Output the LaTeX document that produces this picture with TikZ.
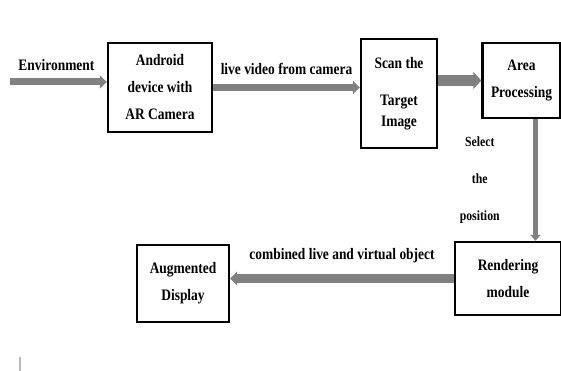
\documentclass[tikz,border=0pt]{standalone}
\usepackage{fontspec}
\setmainfont[FakeStretch=0.84]{Liberation Serif}
\usetikzlibrary{arrows.meta,positioning}

\begin{document}
\begin{tikzpicture}[x=1pt,y=-1pt,font=\bfseries\fontsize{16}{27}\selectfont,
		box/.style={draw,line width=2.4pt,align=center,inner sep=2pt},
		flow/.style={line width=7pt,draw=black!50,-{Triangle[length=7pt,width=13pt]}},
		small/.style={font=\bfseries\fontsize{14}{37}\selectfont,align=center}]
			\useasboundingbox (0,0) rectangle (561,371);

			\node	[box,minimum width=104pt,minimum height=89pt]	(android)	at (160,87.5)	{Android \\ device with \\ AR Camera};
			\node	[box,minimum width=76pt,minimum height=109pt]	(scan)		at (399,93.5)	{Scan the \\[10pt] Target \\[-6pt] Image};
			\node	[box,minimum width=78pt,minimum height=75pt]	(area)		at (521.5,80.5)	{Area \\ Processing};
			\node	[box,minimum width=106pt,minimum height=73pt]	(render)	at (508,278.5)	{Rendering \\ module};
			\node	[box,minimum width=92pt,minimum height=77pt]	(display)	at (183,283.5)	{Augmented \\ Display};
			\coordinate	(env)	at (10,82);

			\path
				(env)						edge	[flow]	node	[above=5pt,xshift=-2pt]	{Environment}				(env -| android.west)
				(android.east)				edge	[flow]	node	[above=6pt]				{live video from camera}	(android.east -| scan.west)
				(area.west -| scan.east)	edge	[flow,line width=11pt,-{Triangle[length=8pt,width=17pt]}]		(area.west)
				([xshift=14pt]area.south)	edge	[flow,line width=5pt,-{Triangle[length=6pt,width=10pt]}]
													node	[small,left=30pt]		{Select \\ the \\ position}	([xshift=14pt]area.south |- render.north)
				(render.west)				edge	[flow,line width=9pt,-{Triangle[length=7pt,width=14pt]}]	node	[above=8pt]		{combined live and virtual object}	(render.west -| display.east)
			;

			\draw	[gray!55,line width=1.5pt]	(20,357) -- (20,371);
		\end{tikzpicture}
\end{document}
